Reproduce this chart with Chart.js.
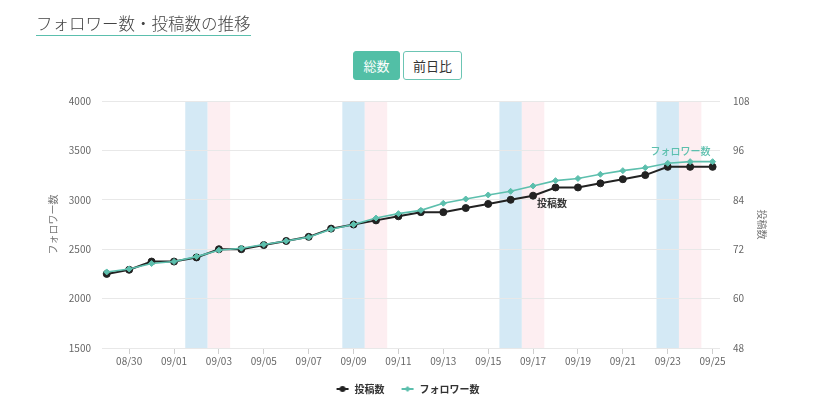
<!DOCTYPE html>
<html><head><meta charset="utf-8">
<script src="https://cdn.jsdelivr.net/npm/chart.js@4.4.0/dist/chart.umd.min.js"></script>
<style>
html,body{margin:0;padding:0;background:#fff;}
body{width:830px;height:404px;position:relative;overflow:hidden;font-family:"Noto Sans CJK JP","Noto Sans",sans-serif;}
#title{position:absolute;left:36px;top:13px;font-size:16.5px;font-weight:300;color:#444;line-height:21px;padding-bottom:1px;border-bottom:1px solid #5bbfad;white-space:nowrap;z-index:2;}
.btn{position:absolute;top:51px;height:29px;box-sizing:border-box;font-size:13px;line-height:27px;text-align:center;border-radius:3px;border:1px solid #52bfa6;z-index:2;}
#b1{left:353px;width:47px;background:#52bfa6;color:#fff;}
#b2{left:403px;width:59px;background:#fff;color:#333;border-color:#6cc5b4;}
#wrap{position:absolute;left:0;top:0;width:830px;height:404px;}
</style></head>
<body>
<div id="title">フォロワー数・投稿数の推移</div>
<div class="btn" id="b1">総数</div>
<div class="btn" id="b2">前日比</div>
<div id="wrap"><canvas id="c" width="830" height="404"></canvas></div>
<script>
const dates = ['08/29','08/30','08/31','09/01','09/02','09/03','09/04','09/05','09/06','09/07','09/08','09/09','09/10','09/11','09/12','09/13','09/14','09/15','09/16','09/17','09/18','09/19','09/20','09/21','09/22','09/23','09/24','09/25'];
const followers = [2270,2300,2355,2375,2425,2490,2510,2548,2583,2622,2702,2750,2815,2860,2893,2965,3008,3049,3086,3140,3194,3216,3258,3295,3325,3370,3386,3386];
const posts = [66,67,69,69,70,72,72,73,74,75,77,78,79,80,81,81,82,83,84,85,87,87,88,89,90,92,92,92];
const saturdays = ['09/02','09/09','09/16','09/23'];
const sundays = ['09/03','09/10','09/17','09/24'];
const xTickLabels = ['08/30','09/01','09/03','09/05','09/07','09/09','09/11','09/13','09/15','09/17','09/19','09/21','09/23','09/25'];
const leftTicks = [1500,2000,2500,3000,3500,4000];
const rightTicks = [48,60,72,84,96,108];

const BLACK = '#222222';
const TEAL = '#5cbfad';
const FONT = '"Noto Sans CJK JP","Noto Sans",sans-serif';

function legendMark(color, style){
  const cv = document.createElement('canvas');
  cv.width = 14; cv.height = 10;
  const g = cv.getContext('2d');
  g.strokeStyle = color; g.fillStyle = color; g.lineWidth = 2;
  g.beginPath(); g.moveTo(1,5); g.lineTo(13,5); g.stroke();
  g.beginPath();
  if (style === 'circle') { g.arc(7,5,3,0,Math.PI*2); }
  else { g.moveTo(7,2); g.lineTo(10,5); g.lineTo(7,8); g.lineTo(4,5); g.closePath(); }
  g.fill();
  return cv;
}
const marks = [legendMark(BLACK,'circle'), legendMark(TEAL,'diamond')];

const bandPlugin = {
  id:'bands',
  beforeDraw(chart){
    const {ctx, chartArea:a, scales:{x}} = chart;
    ctx.save();
    const draw = (list, color) => list.forEach(d => {
      const i = dates.indexOf(d);
      const x0 = x.getPixelForValue(i-0.5), x1 = x.getPixelForValue(i+0.5);
      ctx.fillStyle = color;
      ctx.fillRect(x0, a.top, x1-x0, a.bottom-a.top);
    });
    draw(saturdays, 'rgba(212,233,245,1)');
    draw(sundays, 'rgba(253,238,241,1)');
    ctx.restore();
  }
};

const labelPlugin = {
  id:'endLabels',
  afterDatasetsDraw(chart){
    const ctx = chart.ctx;
    ctx.save();
    const fm = chart.getDatasetMeta(1).data[followers.length-1];
    ctx.font = '500 10px ' + FONT;
    ctx.fillStyle = TEAL; ctx.textAlign = 'right'; ctx.textBaseline = 'middle';
    ctx.fillText('フォロワー数', fm.x - 2, fm.y - 10);
    const pm = chart.getDatasetMeta(0).data[dates.indexOf('09/17')];
    ctx.font = 'bold 10px ' + FONT;
    ctx.fillStyle = '#333'; ctx.textAlign = 'left';
    ctx.fillText('投稿数', pm.x + 4, pm.y + 8);
    ctx.restore();
  }
};

new Chart(document.getElementById('c'), {
  type:'line',
  data:{
    datasets:[
      {label:'投稿数', data: posts.map((v,i)=>({x:i,y:v})), yAxisID:'y1', order:2,
       borderColor:BLACK, backgroundColor:BLACK, borderWidth:2, pointRadius:3.5, pointBorderWidth:1,
       pointStyle:'circle', tension:0},
      {label:'フォロワー数', data: followers.map((v,i)=>({x:i,y:v})), yAxisID:'y', order:1,
       borderColor:TEAL, backgroundColor:TEAL, borderWidth:1.6, pointRadius:3, pointBorderWidth:1,
       pointStyle:'rectRot', tension:0}
    ]
  },
  options:{
    responsive:false, animation:false, events:[],
    layout:{padding:{left:43, right:58, top:101, bottom:0}},
    font:{family:FONT},
    scales:{
      x:{type:'linear', min:-0.21, max:27.33,
        afterBuildTicks: s => { s.ticks = xTickLabels.map(l => ({value: dates.indexOf(l)})); },
        ticks:{callback: v => dates[v], color:'#666', font:{size:10, family:FONT}, padding:1, maxRotation:0, autoSkip:false},
        grid:{drawOnChartArea:false, tickLength:6, color:'#cfcfcf'},
        border:{display:false}
      },
      y:{position:'left', min:1500, max:4000,
        afterBuildTicks: s => { s.ticks = leftTicks.map(v => ({value:v})); },
        ticks:{callback: v => String(v), color:'#666', font:{size:10, family:FONT}, padding:11},
        grid:{color:'#e8e8e8', drawTicks:false},
        border:{display:false},
        title:{display:true, text:'フォロワー数', color:'#777', font:{size:10, family:FONT}},
        afterFit: s => { s.width = 59; }
      },
      y1:{position:'right', min:48, max:108,
        afterBuildTicks: s => { s.ticks = rightTicks.map(v => ({value:v})); },
        ticks:{callback: v => String(v), color:'#666', font:{size:10, family:FONT}, padding:13},
        grid:{display:false, drawOnChartArea:false, drawTicks:false},
        border:{display:false},
        title:{display:true, text:'投稿数', color:'#777', font:{size:10, family:FONT}},
        afterFit: s => { s.width = 52; }
      }
    },
    plugins:{
      legend:{position:'bottom',
        labels:{usePointStyle:true, pointStyleWidth:14, padding:16, color:'#333',
          font:{size:10, weight:'bold', family:FONT},
          sort:(a,b)=>a.datasetIndex-b.datasetIndex,
          generateLabels: chart => chart.data.datasets.map((d,i)=>({
            text:d.label, datasetIndex:i, pointStyle:marks[i], fillStyle:d.borderColor,
            strokeStyle:d.borderColor, lineWidth:0, hidden:false, fontColor:'#333'
          }))
        }
      },
      tooltip:{enabled:false}
    }
  },
  plugins:[bandPlugin, labelPlugin]
});
</script>
</body></html>
